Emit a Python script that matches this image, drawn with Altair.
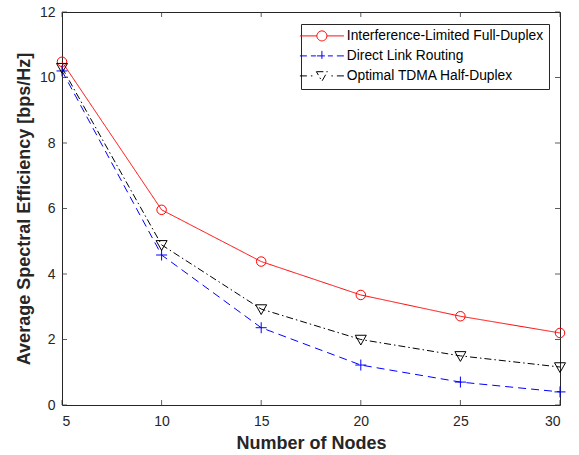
import altair as alt
import pandas as pd

nodes = [5, 10, 15, 20, 25, 30]
y_ticks = [0, 2, 4, 6, 8, 10, 12]
series_names = ["Interference-Limited Full-Duplex", "Direct Link Routing", "Optimal TDMA Half-Duplex"]
full_duplex = [10.48, 5.96, 4.38, 3.36, 2.71, 2.20]
direct_link = [10.20, 4.58, 2.36, 1.22, 0.70, 0.40]
tdma_half = [10.30, 4.89, 2.93, 2.00, 1.50, 1.16]
colors = ["#ff0000", "#0000ff", "#000000"]
dashes = [[1, 0], [8, 5], [7, 3, 1.5, 3]]

# plot markers (custom paths, unit = sqrt(size)/2 = 5 px)
marker_paths = [
    "M0.95,0A0.95,0.95 0 1,1 -0.95,0A0.95,0.95 0 1,1 0.95,0Z",
    "M-1.1,0H1.1M0,-1.1V1.1",
    "M-1.1,-0.85L1.1,-0.85L0,1.1Z",
]

U = 6.0  # px per legend symbol unit (sqrt(144)/2)


def s(v):
    return f"{v / U:.3f}"


# legend symbols: line + marker
legend_paths = [
    f"M{s(-22)},0H{s(-5)}M{s(5)},0H{s(22)}M{s(5)},0A{s(5)},{s(5)} 0 1,1 {s(-5)},0A{s(5)},{s(5)} 0 1,1 {s(5)},0",
    f"M{s(-22)},0H{s(-15)}M{s(-11)},0H{s(-6)}M{s(6)},0H{s(11)}M{s(15)},0H{s(22)}"
    f"M{s(-5)},0H{s(5)}M0,{s(-5)}V{s(5)}",
    f"M{s(-22)},0H{s(-15)}M{s(-11)},0H{s(-9.5)}M{s(9.5)},0H{s(11)}M{s(15)},0H{s(22)}"
    f"M{s(-5.5)},{s(-4.2)}L{s(5.5)},{s(-4.2)}L0,{s(5.3)}Z",
]

rows = []
for name, vals in zip(series_names, [full_duplex, direct_link, tdma_half]):
    for n, v in zip(nodes, vals):
        rows.append({"nodes": n, "value": v, "series": name})
df = pd.DataFrame(rows)
xt = pd.DataFrame({"t": nodes})
yt = pd.DataFrame({"t": y_ticks})

FONT = "Liberation Sans"
W, H = 498, 393
xscale = alt.Scale(domain=[5, 30], nice=False, zero=False)
yscale = alt.Scale(domain=[0, 12], nice=False)
color = alt.Color("series:N", sort=series_names,
                  scale=alt.Scale(domain=series_names, range=colors),
                  legend=alt.Legend(
                      title=None, orient="none", legendX=239, legendY=12,
                      symbolSize=144, symbolStrokeWidth=1, symbolFillColor="transparent",
                      symbolOffset=9, labelOffset=18,
                      labelFont=FONT, labelFontSize=13.8, labelColor="#000000",
                      padding=5, rowPadding=5,
                      fillColor="white", strokeColor="#262626",
                      labelLimit=400))

axis_common = dict(grid=False, domain=False, ticks=False,
                   labelFont=FONT, labelFontSize=14, labelColor="#262626",
                   titleFont=FONT, titleFontSize=18, titleFontWeight="bold",
                   titleColor="#262626")

base = alt.Chart(df)

lines = base.mark_line(strokeWidth=1).encode(
    x=alt.X("nodes:Q", scale=xscale,
            axis=alt.Axis(values=nodes, title="Number of Nodes",
                          labelPadding=9, titlePadding=6, **axis_common)),
    y=alt.Y("value:Q", scale=yscale,
            axis=alt.Axis(values=y_ticks, title="Average Spectral Efficiency [bps/Hz]",
                          labelPadding=7, titlePadding=6, **axis_common)),
    color=color,
    strokeDash=alt.StrokeDash("series:N", sort=series_names,
                              scale=alt.Scale(domain=series_names, range=dashes),
                              legend=None),
    detail="series:N",
)

point_layers = []
for name, path in zip(series_names, marker_paths):
    point_layers.append(
        base.transform_filter(alt.datum.series == name)
        .mark_point(filled=False, size=100, strokeWidth=1, opacity=1, shape=path)
        .encode(x=alt.X("nodes:Q", scale=xscale), y=alt.Y("value:Q", scale=yscale), color=color)
    )

legend_layer = base.transform_filter("datum.value < -100").mark_point(
    filled=False, size=100, strokeWidth=1).encode(
    x=alt.X("nodes:Q", scale=xscale),
    y=alt.Y("value:Q", scale=yscale),
    color=color,
    shape=alt.Shape("series:N", sort=series_names,
                    scale=alt.Scale(domain=series_names, range=legend_paths)),
)

tick_style = dict(color="#333333", strokeWidth=0.8)
bottom_ticks = alt.Chart(xt).mark_rule(**tick_style).encode(
    x=alt.X("t:Q", scale=xscale), y=alt.value(H), y2=alt.value(H - 5))
top_ticks = alt.Chart(xt).mark_rule(**tick_style).encode(
    x=alt.X("t:Q", scale=xscale), y=alt.value(0), y2=alt.value(5))
left_ticks = alt.Chart(yt).mark_rule(**tick_style).encode(
    y=alt.Y("t:Q", scale=yscale), x=alt.value(0), x2=alt.value(5))
right_ticks = alt.Chart(yt).mark_rule(**tick_style).encode(
    y=alt.Y("t:Q", scale=yscale), x=alt.value(W), x2=alt.value(W - 5))

chart = alt.layer(
    bottom_ticks, top_ticks, left_ticks, right_ticks,
    lines, *point_layers, legend_layer
).properties(
    width=W, height=H,
    autosize=alt.AutoSizeParams(type="none"),
    padding={"left": 62, "top": 12, "right": 19, "bottom": 50},
    background="white",
).configure_view(
    stroke="#262626", strokeWidth=1
)

chart.save("out.html", embed_options={"renderer": "svg", "actions": False})
